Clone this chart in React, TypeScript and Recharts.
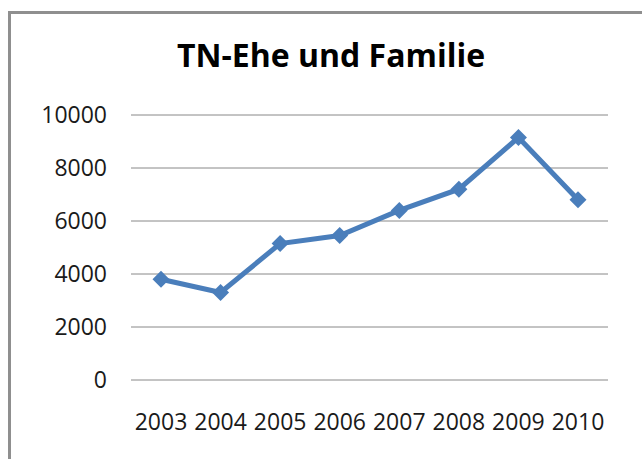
import { LineChart, Line, XAxis, YAxis, CartesianGrid } from "recharts";

const years = ["2003", "2004", "2005", "2006", "2007", "2008", "2009", "2010"];
const participants = [3800, 3300, 5150, 5450, 6400, 7200, 9150, 6800];
const yTicks = [0, 2000, 4000, 6000, 8000, 10000];

const chartData = years.map((year, i) => ({ year, value: participants[i] }));

const FONT = "'Open Sans', 'Noto Sans', sans-serif";
const BLUE = "#4a7ebb";

function Diamond(props: any) {
  const { cx, cy, index } = props;
  if (cx == null || cy == null) return null;
  const r = 8.5;
  return (
    <polygon
      key={`dot-${index}`}
      points={`${cx},${cy - r} ${cx + r},${cy} ${cx},${cy + r} ${cx - r},${cy}`}
      fill={BLUE}
      stroke="none"
    />
  );
}

export default function App() {
  return (
    <div
      style={{
        position: "absolute",
        left: 0,
        top: 0,
        width: 642,
        height: 459,
        overflow: "hidden",
        background: "#fff",
      }}
    >
      <div
        style={{
          position: "absolute",
          left: 8,
          top: 11,
          width: 700,
          height: 520,
          borderLeft: "3px solid #8f8f8f",
          borderTop: "3px solid #8f8f8f",
        }}
      />
      <svg
        width={642}
        height={100}
        style={{ position: "absolute", left: 0, top: 0 }}
      >
        <text
          x={331}
          y={67}
          textAnchor="middle"
          fontFamily={FONT}
          fontWeight="bold"
          fontSize={32}
          fill="#000"
        >
          TN-Ehe und Familie
        </text>
      </svg>
      <div style={{ position: "absolute", left: 0, top: 0 }}>
        <LineChart
          width={642}
          height={459}
          data={chartData}
          margin={{ top: 115, right: 34, bottom: 0, left: 0 }}
        >
          <CartesianGrid
            vertical={false}
            stroke="#888888"
            strokeWidth={1}
          />
          <XAxis
            dataKey="year"
            height={79}
            padding={{ left: 30, right: 30 }}
            axisLine={false}
            tickLine={false}
            tickSize={0}
            tickMargin={34}
            interval={0}
            tick={{ fill: "#1a1a1a", fontSize: 23, fontFamily: FONT }}
          />
          <YAxis
            domain={[0, 10000]}
            ticks={yTicks}
            width={131}
            axisLine={false}
            tickLine={false}
            tickSize={0}
            tickMargin={24}
            tick={{ fill: "#1a1a1a", fontSize: 23, fontFamily: FONT }}
          />
          <Line
            type="linear"
            dataKey="value"
            stroke={BLUE}
            strokeWidth={5}
            dot={Diamond}
            activeDot={false}
            isAnimationActive={false}
          />
        </LineChart>
      </div>
    </div>
  );
}
